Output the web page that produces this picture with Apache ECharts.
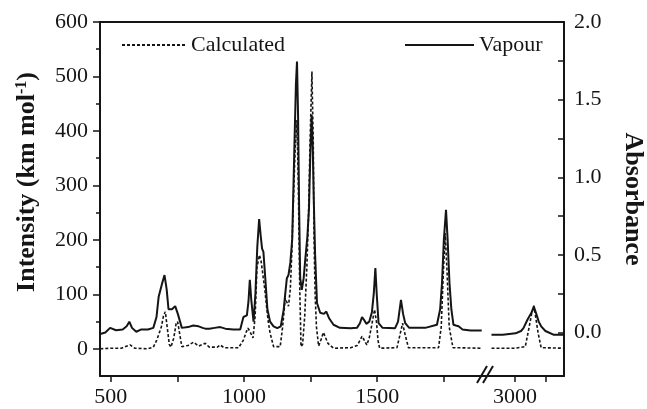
<!DOCTYPE html>
<html>
<head>
<meta charset="utf-8">
<script src="https://cdn.jsdelivr.net/npm/echarts@6/dist/echarts.min.js"></script>
<style>
  html, body { margin: 0; padding: 0; background: #fff; }
  #chart { width: 647px; height: 409px; }
</style>
</head>
<body>
<div id="chart"></div>
<script>
// 低波数段 (460-1900 cm-1)
const calcWn1 = [461, 500, 540, 573, 590, 640, 660, 673, 690, 698, 705, 712, 720, 726, 737, 745, 751, 758, 767, 790, 811, 830, 855, 870, 900, 911, 925, 980,
  998, 1008, 1015, 1022, 1034, 1042, 1049, 1058, 1064, 1071, 1078, 1086, 1092, 1098, 1111, 1136, 1145, 1155, 1161, 1167, 1174, 1180, 1186, 1192, 1199,
  1204, 1209, 1214, 1220, 1228, 1236, 1242, 1248, 1255, 1260, 1263, 1267, 1272, 1280, 1290, 1298, 1305, 1315, 1336, 1400, 1425, 1436, 1443, 1452, 1461,
  1470, 1480, 1490, 1497, 1503, 1509, 1574, 1585, 1595, 1605, 1617, 1730, 1740, 1748, 1755, 1762, 1770, 1784, 1892]
const calcInt1 = [0, 1, 1, 7, 1, 0, 3, 16, 40, 60, 68, 40, 8, 3, 20, 45, 50, 30, 4, 6, 12, 5, 10, 3, 3, 7, 2, 2,
  16, 30, 38, 32, 20, 60, 150, 172, 162, 160, 110, 72, 47, 29, 4, 4, 40, 93, 94, 78, 110, 182, 280, 365, 420,
  300, 120, 4, 8, 60, 151, 240, 380, 509, 380, 200, 100, 40, 5, 18, 30, 28, 10, 1, 2, 6, 16, 23, 15, 7,
  20, 45, 72, 50, 15, 1, 2, 25, 47, 25, 2, 2, 40, 140, 212, 140, 40, 2, 1]

const vapWn1 = [461, 480, 498, 520, 545, 560, 570, 580, 596, 615, 640, 660, 672, 680, 692, 702, 710, 717, 730, 742, 752, 767, 790, 810, 830, 845, 855, 870,
  890, 911, 930, 960, 986, 998, 1011, 1017, 1022, 1028, 1036, 1043, 1050, 1057, 1063, 1068, 1073, 1080, 1088, 1098, 1111, 1125, 1138, 1149, 1155,
  1161, 1167, 1174, 1181, 1189, 1195, 1199, 1203, 1207, 1211, 1217, 1224, 1230, 1238, 1244, 1249, 1254, 1258, 1262, 1267, 1274, 1286, 1300, 1309,
  1320, 1336, 1360, 1400, 1424, 1435, 1443, 1451, 1459, 1470, 1480, 1487, 1493, 1498, 1505, 1520, 1567, 1578, 1589, 1597, 1605, 1620, 1680, 1724,
  1736, 1743, 1750, 1758, 1764, 1771, 1778, 1786, 1795, 1805, 1820, 1850, 1892]
const vapAbs1 = [-0.01, 0.0, 0.03, 0.015, 0.02, 0.04, 0.07, 0.03, 0.005, 0.02, 0.02, 0.03, 0.10, 0.23, 0.31, 0.37, 0.28, 0.15, 0.15, 0.17, 0.12, 0.03, 0.035, 0.045, 0.04, 0.03, 0.025, 0.025,
  0.03, 0.035, 0.025, 0.02, 0.02, 0.10, 0.11, 0.20, 0.34, 0.20, 0.07, 0.25, 0.55, 0.73, 0.62, 0.54, 0.52, 0.35, 0.15, 0.07, 0.04, 0.028, 0.04, 0.146, 0.25,
  0.35, 0.37, 0.45, 0.60, 1.18, 1.60, 1.746, 1.40, 0.80, 0.35, 0.275, 0.35, 0.47, 0.62, 0.80, 1.15, 1.40, 1.20, 0.85, 0.50, 0.19, 0.127, 0.12, 0.135,
  0.09, 0.05, 0.03, 0.028, 0.03, 0.06, 0.10, 0.08, 0.056, 0.07, 0.13, 0.25, 0.415, 0.25, 0.06, 0.03, 0.028, 0.07, 0.21, 0.12, 0.06, 0.03, 0.03, 0.05,
  0.15, 0.32, 0.60, 0.79, 0.60, 0.32, 0.15, 0.05, 0.045, 0.04, 0.02, 0.013, 0.013]

// 高波数段 (C-H 伸缩)
const calcWn2 = [2923, 3000, 3034, 3047, 3055, 3062, 3069, 3076, 3086, 3161]
const calcInt2 = [1, 1, 4, 41, 65, 79, 55, 29, 2, 1]
const vapWn2 = [2923, 2960, 3002, 3020, 3028, 3041, 3047, 3055, 3062, 3070, 3078, 3086, 3100, 3128, 3161]
const vapAbs2 = [-0.015, -0.015, -0.005, 0.01, 0.028, 0.082, 0.09, 0.13, 0.168, 0.12, 0.07, 0.04, 0.01, -0.015, -0.015]

// 刻度
const xMajor1 = [500, 1000, 1500]
const xTicks1 = [500, 750, 1000, 1250, 1500, 1750]
const xMajor2 = [3000]
const xTicks2 = [3000, 3100]
const leftMajor = [0, 100, 200, 300, 400, 500, 600]
const leftMinor = [50, 150, 250, 350, 450, 550]
const rightMajor = [0, 0.5, 1.0, 1.5, 2.0]
const rightTicks = [0, 0.25, 0.5, 0.75, 1.0, 1.25, 1.5, 1.75, 2.0]

const pair = (xs, ys) => xs.map((x, i) => [x, ys[i]])

const font = 'Liberation Serif'
const ink = '#151515'
const labelStyle = { fontFamily: font, fontSize: 22, color: ink }
const lineAx = { show: true, onZero: false, lineStyle: { color: ink, width: 2 } }
const plain = v => String(v)

let myChart = echarts.init(document.getElementById('chart'))

let options = {
  animation: false,
  grid: [
    { left: 100, top: 22, right: 161, bottom: 33 },
    { left: 486, top: 22, right: 80, bottom: 33 }
  ],
  legend: [
    {
      data: ['Calculated'], left: 116, top: 29, itemWidth: 64, itemHeight: 14,
      itemStyle: { color: 'rgba(0,0,0,0)', borderWidth: 0 },
      textStyle: labelStyle
    },
    {
      data: ['Vapour'], left: 399, top: 29, itemWidth: 69, itemHeight: 14,
      itemStyle: { color: 'rgba(0,0,0,0)', borderWidth: 0 },
      textStyle: labelStyle
    }
  ],
  xAxis: [
    {
      type: 'value', gridIndex: 0, min: 460, max: 1908, position: 'bottom',
      axisLine: lineAx,
      axisTick: { customValues: xTicks1, length: 6, lineStyle: { color: ink, width: 1.5 } },
      axisLabel: { customValues: xMajor1, margin: 10, formatter: plain, ...labelStyle },
      splitLine: { show: false }
    },
    {
      type: 'value', gridIndex: 0, min: 460, max: 1908, position: 'top',
      axisLine: lineAx, axisTick: { show: false }, axisLabel: { show: false }, splitLine: { show: false }
    },
    {
      type: 'value', gridIndex: 1, min: 2905, max: 3161, position: 'bottom',
      axisLine: lineAx,
      axisTick: { customValues: xTicks2, length: 6, lineStyle: { color: ink, width: 1.5 } },
      axisLabel: { customValues: xMajor2, margin: 10, formatter: plain, ...labelStyle },
      splitLine: { show: false }
    },
    {
      type: 'value', gridIndex: 1, min: 2905, max: 3161, position: 'top',
      axisLine: lineAx, axisTick: { show: false }, axisLabel: { show: false }, splitLine: { show: false }
    }
  ],
  yAxis: [
    {
      type: 'value', gridIndex: 0, min: -50, max: 600, position: 'left',
      name: 'Intensity (km mol{sup|-1})', nameLocation: 'middle', nameRotate: 90, nameGap: 60,
      nameTextStyle: {
        fontFamily: font, fontSize: 26, fontWeight: 'bold', color: ink, padding: [0, 0, 0, 34],
        rich: { sup: { fontFamily: font, fontSize: 16, fontWeight: 'bold', color: ink, verticalAlign: 'top', padding: [0, 0, 10, 0] } }
      },
      axisLine: lineAx,
      axisTick: { customValues: leftMajor, length: 7, lineStyle: { color: ink, width: 1.5 } },
      axisLabel: { customValues: leftMajor, margin: 12, formatter: plain, ...labelStyle },
      splitLine: { show: false }
    },
    { type: 'value', gridIndex: 0, min: -0.28, max: 2.0, position: 'right', show: false },
    {
      type: 'value', gridIndex: 0, min: -50, max: 600, position: 'left',
      axisLine: { show: false, onZero: false },
      axisTick: { customValues: leftMinor, length: 4, lineStyle: { color: ink, width: 1.5 } },
      axisLabel: { show: false }, splitLine: { show: false }
    },
    { type: 'value', gridIndex: 1, min: -50, max: 600, position: 'left', show: false },
    {
      type: 'value', gridIndex: 1, min: -0.28, max: 2.0, position: 'right',
      name: 'Absorbance', nameLocation: 'middle', nameRotate: -90, nameGap: 56,
      nameTextStyle: { fontFamily: font, fontSize: 26, fontWeight: 'bold', color: ink },
      axisLine: lineAx,
      axisTick: { customValues: rightTicks, inside: true, length: 6, lineStyle: { color: ink, width: 1.5 } },
      axisLabel: { customValues: rightMajor, margin: 10, formatter: v => v.toFixed(1), ...labelStyle },
      splitLine: { show: false }
    }
  ],
  series: [
    {
      name: 'Calculated', type: 'line', xAxisIndex: 0, yAxisIndex: 0, symbol: 'none',
      lineStyle: { color: ink, width: 1.6, type: [3, 2] }, itemStyle: { color: ink },
      data: pair(calcWn1, calcInt1)
    },
    {
      name: 'Vapour', type: 'line', xAxisIndex: 0, yAxisIndex: 1, symbol: 'none',
      lineStyle: { color: ink, width: 2 }, itemStyle: { color: ink },
      data: pair(vapWn1, vapAbs1)
    },
    {
      name: 'Calculated', type: 'line', xAxisIndex: 2, yAxisIndex: 3, symbol: 'none',
      lineStyle: { color: ink, width: 1.6, type: [3, 2] }, itemStyle: { color: ink },
      data: pair(calcWn2, calcInt2)
    },
    {
      name: 'Vapour', type: 'line', xAxisIndex: 2, yAxisIndex: 4, symbol: 'none',
      lineStyle: { color: ink, width: 2 }, itemStyle: { color: ink },
      data: pair(vapWn2, vapAbs2)
    }
  ],
  // 断轴标记 //
  graphic: [
    { type: 'line', shape: { x1: 477, y1: 383, x2: 487, y2: 366 }, style: { stroke: ink, lineWidth: 2 } },
    { type: 'line', shape: { x1: 483, y1: 383, x2: 493, y2: 366 }, style: { stroke: ink, lineWidth: 2 } }
  ]
}

myChart.setOption(options)
</script>
</body>
</html>
